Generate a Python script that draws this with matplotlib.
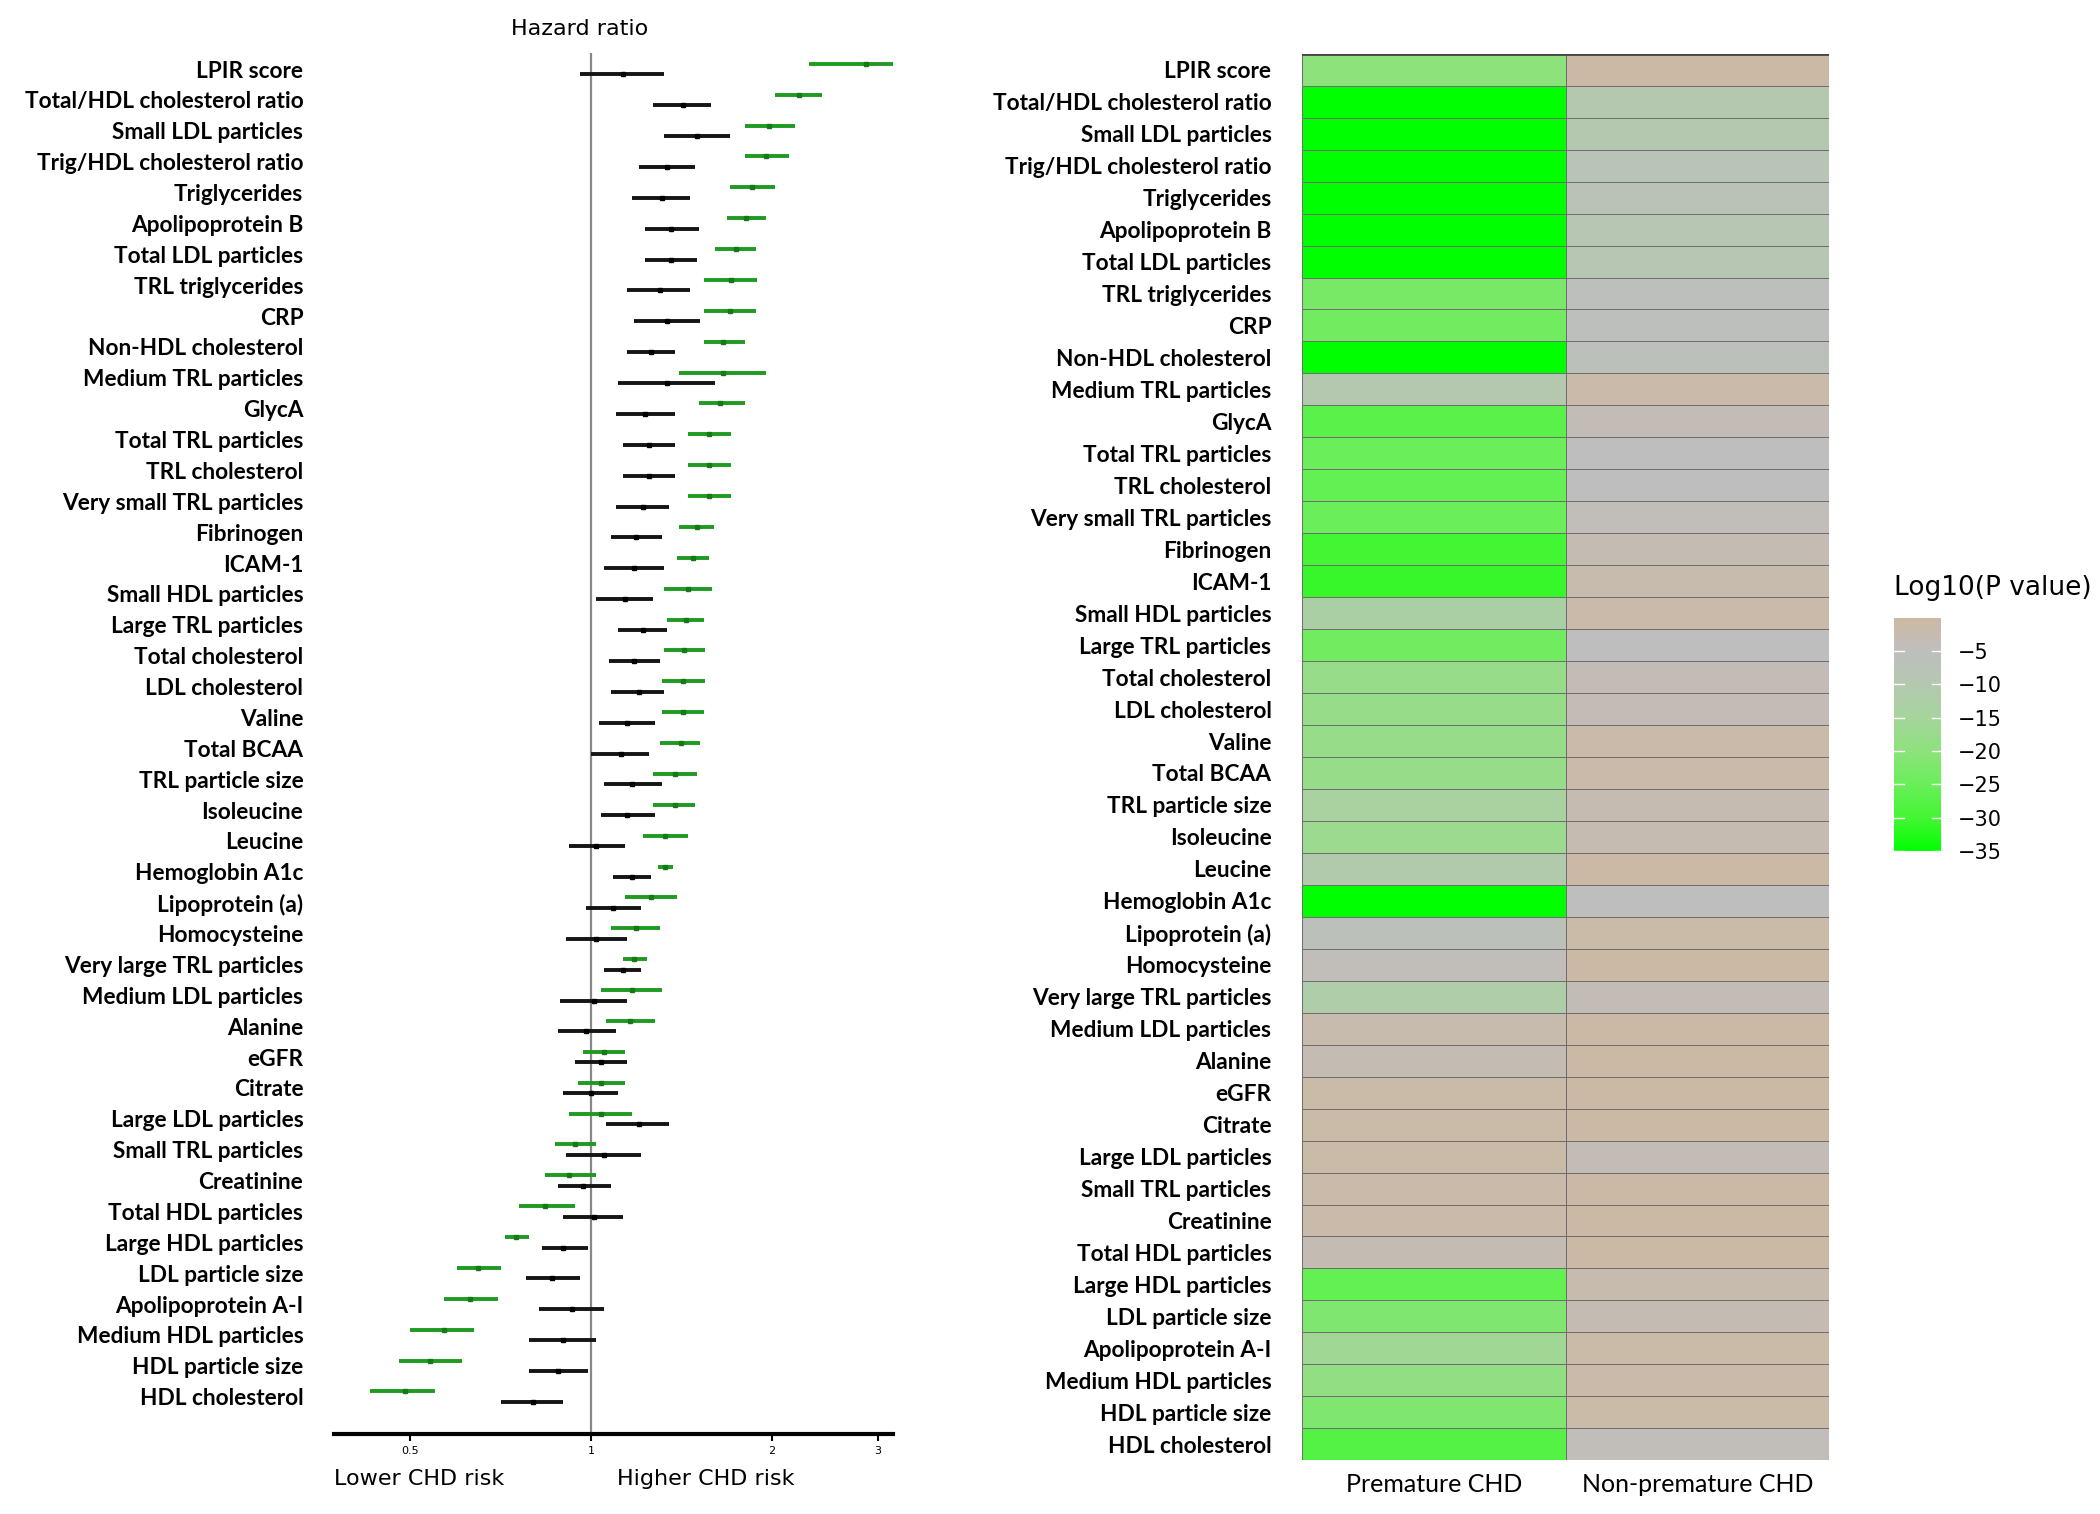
import numpy as np
import matplotlib
matplotlib.use('Agg')
from matplotlib import pyplot as plt
from matplotlib.colors import LinearSegmentedColormap, Normalize
from matplotlib.ticker import FixedLocator, NullLocator

labels = ['LPIR score', 'Total/HDL cholesterol ratio', 'Small LDL particles',
          'Trig/HDL cholesterol ratio', 'Triglycerides', 'Apolipoprotein B',
          'Total LDL particles', 'TRL triglycerides', 'CRP', 'Non-HDL cholesterol',
          'Medium TRL particles', 'GlycA', 'Total TRL particles', 'TRL cholesterol',
          'Very small TRL particles', 'Fibrinogen', 'ICAM-1', 'Small HDL particles',
          'Large TRL particles', 'Total cholesterol', 'LDL cholesterol', 'Valine',
          'Total BCAA', 'TRL particle size', 'Isoleucine', 'Leucine',
          'Hemoglobin A1c', 'Lipoprotein (a)', 'Homocysteine',
          'Very large TRL particles', 'Medium LDL particles', 'Alanine', 'eGFR',
          'Citrate', 'Large LDL particles', 'Small TRL particles', 'Creatinine',
          'Total HDL particles', 'Large HDL particles', 'LDL particle size',
          'Apolipoprotein A-I', 'Medium HDL particles', 'HDL particle size',
          'HDL cholesterol']

# premature CHD hazard ratios (green)
prem_hr = [2.86, 2.22, 1.98, 1.95, 1.85, 1.81, 1.74, 1.71, 1.70, 1.66, 1.66, 1.64,
           1.57, 1.57, 1.57, 1.50, 1.48, 1.45, 1.44, 1.43, 1.42, 1.42, 1.41, 1.38,
           1.38, 1.33, 1.33, 1.26, 1.19, 1.18, 1.17, 1.16, 1.05, 1.04, 1.04, 0.94,
           0.92, 0.84, 0.75, 0.65, 0.63, 0.57, 0.54, 0.49]
prem_lo = [2.30, 2.02, 1.80, 1.80, 1.70, 1.68, 1.61, 1.54, 1.54, 1.54, 1.40, 1.51,
           1.45, 1.45, 1.45, 1.40, 1.39, 1.32, 1.34, 1.32, 1.31, 1.31, 1.30, 1.27,
           1.27, 1.22, 1.29, 1.14, 1.08, 1.13, 1.04, 1.06, 0.97, 0.95, 0.92, 0.87,
           0.84, 0.76, 0.72, 0.60, 0.57, 0.50, 0.48, 0.43]
prem_hi = [3.19, 2.42, 2.18, 2.13, 2.02, 1.95, 1.88, 1.89, 1.88, 1.80, 1.95, 1.80,
           1.71, 1.71, 1.71, 1.60, 1.57, 1.59, 1.54, 1.55, 1.55, 1.54, 1.52, 1.50,
           1.49, 1.45, 1.37, 1.39, 1.30, 1.24, 1.31, 1.28, 1.14, 1.14, 1.17, 1.02,
           1.02, 0.94, 0.79, 0.71, 0.70, 0.64, 0.61, 0.55]

# non-premature CHD hazard ratios (black)
non_hr = [1.13, 1.42, 1.50, 1.34, 1.31, 1.36, 1.36, 1.30, 1.34, 1.26, 1.34, 1.23,
          1.25, 1.25, 1.22, 1.19, 1.18, 1.14, 1.22, 1.18, 1.20, 1.15, 1.12, 1.17,
          1.15, 1.02, 1.17, 1.09, 1.02, 1.13, 1.01, 0.98, 1.04, 1.00, 1.20, 1.05,
          0.97, 1.01, 0.90, 0.86, 0.93, 0.90, 0.88, 0.80]
non_lo = [0.96, 1.27, 1.32, 1.20, 1.17, 1.23, 1.23, 1.15, 1.18, 1.15, 1.11, 1.10,
          1.13, 1.13, 1.10, 1.08, 1.05, 1.02, 1.11, 1.07, 1.08, 1.03, 1.00, 1.05,
          1.04, 0.92, 1.09, 0.98, 0.91, 1.05, 0.89, 0.88, 0.94, 0.90, 1.06, 0.91,
          0.88, 0.90, 0.83, 0.78, 0.82, 0.79, 0.79, 0.71]
non_hi = [1.32, 1.58, 1.70, 1.49, 1.46, 1.51, 1.50, 1.46, 1.52, 1.38, 1.61, 1.38,
          1.38, 1.38, 1.35, 1.31, 1.32, 1.27, 1.34, 1.30, 1.32, 1.28, 1.25, 1.31,
          1.28, 1.14, 1.26, 1.21, 1.15, 1.21, 1.15, 1.10, 1.15, 1.11, 1.35, 1.21,
          1.08, 1.13, 0.99, 0.96, 1.05, 1.02, 0.99, 0.90]

# log10(P value) for the heatmap
prem_logp = [-20, -35, -35, -35, -35, -35, -35, -23, -24, -35, -10, -27, -25, -26,
             -25, -30, -31, -13, -24, -18, -18, -18, -18, -14, -17, -11, -35, -6,
             -4, -12, -2, -3, -1, -1, -1, -1.5, -1.5, -3, -26, -22, -16, -19, -22, -28]
non_logp = [-0.5, -10, -10, -8, -7, -9, -9, -5.5, -5.5, -6.5, -1.5, -3.5, -5, -5,
            -4, -3, -2, -1.5, -5, -3.5, -3.5, -1.5, -1.5, -2.5, -2.5, -0.5, -5, -1,
            -0.5, -3.5, -0.5, -0.5, -0.5, -0.5, -3.5, -0.5, -0.5, -0.5, -2, -3, -1,
            -1.5, -1, -4]

columns = ['Premature CHD', 'Non-premature CHD']
hr_ticks = [0.5, 1, 2, 3]
cbar_ticks = [-5, -10, -15, -20, -25, -30, -35]

lab_font = ['Lato', 'DejaVu Sans']
green = '#1f9a22'
black = '#151515'

fig = plt.figure(figsize=(21, 15.14), dpi=100)

# ---- forest plot
ax = fig.add_axes([0.159, 0.053, 0.266, 0.912])
ax.set_xscale('log')
n = len(labels)
rows = np.arange(n)
off = 0.17
for i in range(n):
    ax.plot([prem_lo[i], prem_hi[i]], [i - off, i - off], color=green, lw=2.8,
            solid_capstyle='butt', zorder=3)
    ax.plot([non_lo[i], non_hi[i]], [i + off, i + off], color=black, lw=2.8,
            solid_capstyle='butt', zorder=3)
ax.plot(prem_hr, rows - off, 's', color='#137a16', ms=3, zorder=4)
ax.plot(non_hr, rows + off, 's', color='black', ms=3, zorder=4)
ax.axvline(1, color='#888888', lw=1.6, zorder=1)
ax.set_xlim(0.374, 3.17)
ax.set_ylim(44.2, -0.52)
ax.xaxis.set_major_locator(FixedLocator(hr_ticks))
ax.xaxis.set_minor_locator(NullLocator())
ax.set_xticklabels(['0.5', '1', '2', '3'], fontsize=8)
ax.tick_params(axis='x', length=5, width=1.5, pad=4)
ax.set_yticks(rows)
ax.set_yticklabels(labels, family=lab_font, fontweight='bold', fontsize=16.3)
ax.tick_params(axis='y', length=0, pad=22)
for s in ['left', 'right', 'top']:
    ax.spines[s].set_visible(False)
ax.spines['bottom'].set_linewidth(3)
ax.set_title('Hazard ratio', fontsize=16, pad=13, x=0.44)
fig.text(0.159, 0.023, 'Lower CHD risk', fontsize=16, ha='left', va='center')
fig.text(0.294, 0.023, 'Higher CHD risk', fontsize=16, ha='left', va='center')

# ---- heatmap
cmap = LinearSegmentedColormap.from_list('pv', [
    (0.0, '#00ff00'), (5 / 35, '#45f535'), (10 / 35, '#6aee5a'),
    (15 / 35, '#8de27c'), (20 / 35, '#a6d49c'), (25 / 35, '#b4c8b0'),
    (30 / 35, '#bebebe'), (1.0, '#cdb9a3')])
norm = Normalize(vmin=-35, vmax=0)

hx = fig.add_axes([0.620, 0.0355, 0.251, 0.929])
grid = np.column_stack([prem_logp, non_logp])
hx.pcolormesh(np.arange(3), np.arange(n + 1), grid, cmap=cmap, norm=norm,
              edgecolors='#6e6e6e', linewidth=0.7)
hx.set_xlim(0, 2)
hx.set_ylim(n, 0)
hx.set_yticks(rows + 0.5)
hx.set_yticklabels(labels, family=lab_font, fontweight='bold', fontsize=16.3)
hx.set_xticks([0.5, 1.5])
hx.set_xticklabels(columns, family=lab_font, fontsize=18)
hx.tick_params(length=0)
hx.tick_params(axis='y', pad=22)
hx.tick_params(axis='x', pad=9)
for s in hx.spines.values():
    s.set_visible(False)
hx.axhline(0, color='#444444', lw=2)

# ---- colorbar
cax = fig.add_axes([0.902, 0.438, 0.0224, 0.154])
sm = plt.cm.ScalarMappable(cmap=cmap, norm=norm)
cb = fig.colorbar(sm, cax=cax, ticks=cbar_ticks)
cb.outline.set_visible(False)
cb.ax.tick_params(length=0, labelsize=15, pad=12)
for t in cbar_ticks:
    cax.plot([0, 0.2], [t, t], color='white', lw=1, transform=cax.get_yaxis_transform())
    cax.plot([0.8, 1], [t, t], color='white', lw=1, transform=cax.get_yaxis_transform())
cax.set_title('Log10(P value)', fontsize=19, loc='left', pad=16)

fig.savefig('out.png', dpi=100)
